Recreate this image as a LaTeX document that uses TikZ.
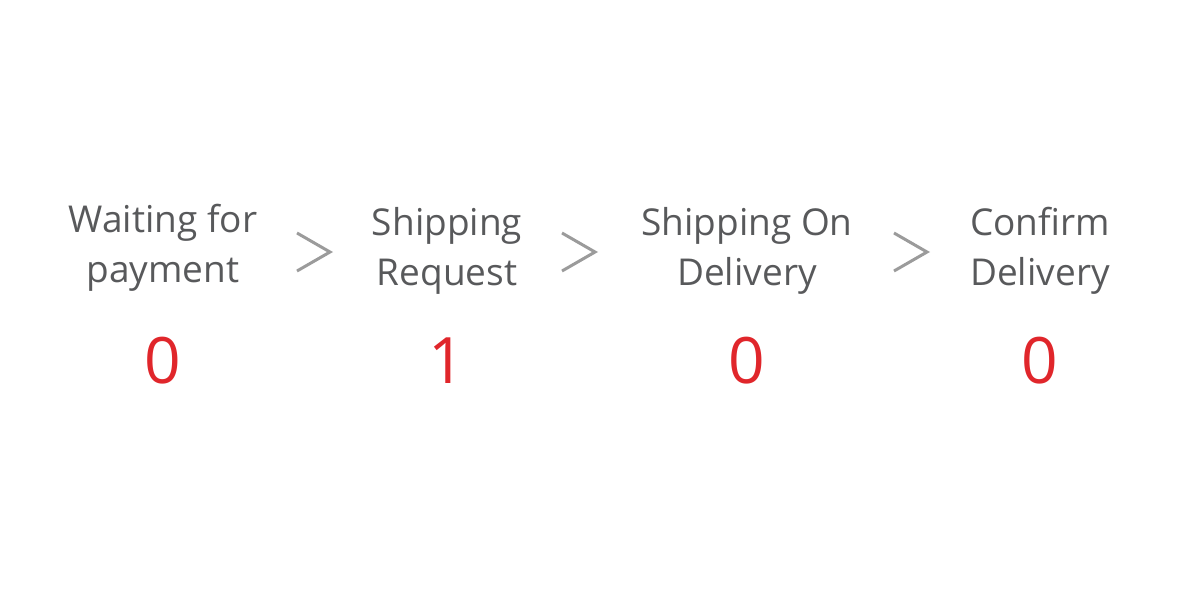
\documentclass[tikz,border=0pt]{standalone}
\usepackage{fontspec}
\setmainfont{Open Sans}
\definecolor{txtgray}{HTML}{58595B}
\definecolor{chevgray}{HTML}{9B9B9B}
\definecolor{numred}{HTML}{E0262B}
\begin{document}
\begin{tikzpicture}[x=1pt,y=-1pt,
  lbl/.style={text=txtgray,align=center,inner sep=0pt,anchor=base,
    font=\fontsize{37}{50}\selectfont},
  num/.style={text=numred,inner sep=0pt,anchor=base,
    font=\fontsize{64}{64}\selectfont},
  chev/.style={draw=chevgray,line width=3pt,line cap=butt,line join=miter}]
\useasboundingbox (0,0) rectangle (1180,590);
\node[lbl] (l1) at (163,282) {Waiting for\\payment};
\node[lbl] (l2) at (447,285) {Shipping\\Request};
\node[lbl] (l3) at (747,285) {Shipping On\\Delivery};
\node[lbl] (l4) at (1040,285) {Confirm\\Delivery};
\node[num] (n1) at (163,383) {0};
\node[num] (n2) at (447,383) {1};
\node[num] (n3) at (747,383) {0};
\node[num] (n4) at (1040,383) {0};
\coordinate (c1) at (314,252);
\coordinate (c2) at (579,252);
\coordinate (c3) at (911,252);
\foreach \c in {c1,c2,c3}
  \draw[chev] ([shift={(-17,-19)}]\c) -- ([shift={(16,0)}]\c) -- ([shift={(-17,19)}]\c);
\end{tikzpicture}
\end{document}
